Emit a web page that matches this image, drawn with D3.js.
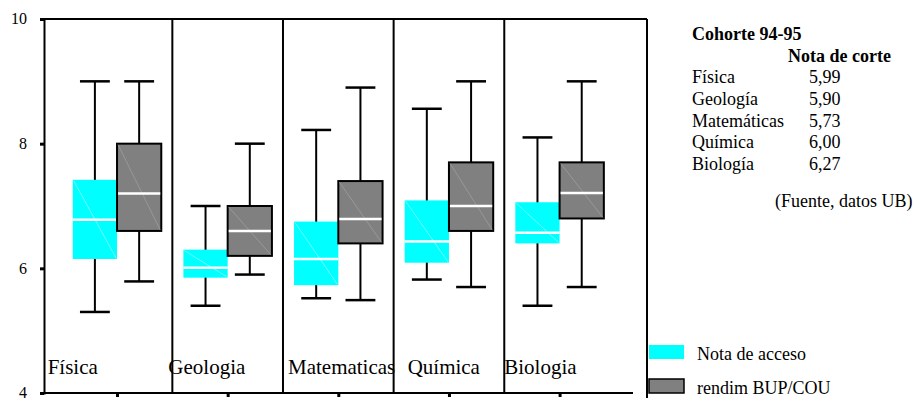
<html>
<head>
<meta charset="utf-8">
<script src="https://d3js.org/d3.v7.min.js"></script>
<style>
  body { margin: 0; background: #fff; }
  svg text { font-family: "Liberation Serif", "Times New Roman", serif; fill: #000; }
</style>
</head>
<body>
<script>
// carreras (x categories)
var categories = ["Física", "Geologia", "Matematicas", "Química", "Biologia"];
// [whisker low, q1, median, q3, whisker high]
var notaAcceso = [
  [5.30, 6.15, 6.78, 7.42, 9.00],
  [5.40, 5.85, 6.01, 6.30, 7.00],
  [5.52, 5.73, 6.15, 6.75, 8.22],
  [5.82, 6.09, 6.43, 7.09, 8.56],
  [5.40, 6.40, 6.57, 7.06, 8.10]
];
var rendimBUP = [
  [5.79, 6.60, 7.20, 8.00, 9.00],
  [5.90, 6.20, 6.60, 7.00, 8.00],
  [5.49, 6.40, 6.79, 7.40, 8.90],
  [5.70, 6.60, 7.00, 7.70, 9.00],
  [5.70, 6.80, 7.21, 7.70, 9.00]
];
var yTicks = [4, 6, 8, 10];
var tablaCarreras = ["Física", "Geología", "Matemáticas", "Química", "Biología"];
var notaCorte = ["5,99", "5,90", "5,73", "6,00", "6,27"];
var seriesNames = ["Nota de acceso", "rendim BUP/COU"];

var width = 918, height = 398;
var svg = d3.select("body").append("svg")
  .attr("width", width).attr("height", height);

var x = d3.scaleLinear().domain([-0.66, 4.79]).range([44, 647]);
var y = d3.scaleLinear().domain([4, 10]).range([393, 19]);

var boxW = 0.4, capW = 0.135;

// frame
svg.append("line").attr("x1", x(-0.66)).attr("x2", x(4.79))
  .attr("y1", y(10)).attr("y2", y(10)).attr("stroke", "#000").attr("stroke-width", 2);
svg.append("line").attr("x1", x(4.79)).attr("x2", x(4.79))
  .attr("y1", y(10)).attr("y2", height).attr("stroke", "#000").attr("stroke-width", 2);

// separators between groups
svg.selectAll(".sep").data(d3.range(categories.length - 1)).enter()
  .append("line")
  .attr("x1", function(i) { return x(i + 0.5); })
  .attr("x2", function(i) { return x(i + 0.5); })
  .attr("y1", y(10)).attr("y2", y(4))
  .attr("stroke", "#000").attr("stroke-width", 2);

// y axis
var yAxis = d3.axisLeft(y).tickValues(yTicks).tickSize(4).tickPadding(13).tickFormat(d3.format("d"));
var gy = svg.append("g").attr("transform", "translate(" + x(-0.66) + ",0)").call(yAxis);
gy.attr("font-family", null).attr("font-size", null);
gy.select(".domain").attr("stroke-width", 2);
gy.selectAll(".tick line").attr("stroke-width", 3);
gy.selectAll(".tick text").style("font-size", "16px").attr("dy", "0.3em");

// x axis
var xAxis = d3.axisBottom(x).tickValues(d3.range(categories.length)).tickSize(4).tickFormat("");
var gx = svg.append("g").attr("transform", "translate(0," + y(4) + ")").call(xAxis);
gx.select(".domain").attr("d", "M" + x(-0.66) + ",0H" + (x(4.79) - 14)).attr("stroke-width", 2);
gx.selectAll(".tick line").attr("stroke-width", 3);

function drawBoxes(data, offset, fill, stroke, diag) {
  var g = svg.append("g");
  data.forEach(function(d, i) {
    var cx = i + offset + boxW / 2;
    // whisker
    g.append("line").attr("x1", x(cx)).attr("x2", x(cx))
      .attr("y1", y(d[0])).attr("y2", y(d[4])).attr("stroke", "#000").attr("stroke-width", 2);
    [d[0], d[4]].forEach(function(v) {
      g.append("line").attr("x1", x(cx - capW)).attr("x2", x(cx + capW))
        .attr("y1", y(v)).attr("y2", y(v)).attr("stroke", "#000").attr("stroke-width", 2.5);
    });
    var x0 = x(i + offset), x1 = x(i + offset + boxW);
    g.append("rect").attr("x", x0).attr("width", x1 - x0)
      .attr("y", y(d[3])).attr("height", y(d[1]) - y(d[3]))
      .attr("fill", fill)
      .attr("stroke", stroke || "none").attr("stroke-width", 2);
    g.append("line").attr("x1", x0 + 1).attr("x2", x1 - 1)
      .attr("y1", y(d[3]) + 1).attr("y2", y(d[1]) - 1)
      .attr("stroke", diag).attr("stroke-width", 0.6);
    g.append("line").attr("x1", x0 + (stroke ? 1 : 0)).attr("x2", x1 - (stroke ? 1 : 0))
      .attr("y1", y(d[2])).attr("y2", y(d[2]))
      .attr("stroke", "#fff").attr("stroke-width", 2.5);
  });
}
drawBoxes(notaAcceso, -boxW, "#00ffff", null, "#b8ffff");
drawBoxes(rendimBUP, 0, "#808080", "#000", "#a8a8a8");

// category labels (nudged like the original)
var labelPad = [-14, -4, 5, 14, 0];
svg.selectAll(".cat").data(categories).enter()
  .append("text")
  .attr("x", function(d, i) { return x(i - 0.5) + labelPad[i]; })
  .attr("y", 374)
  .style("font-size", "21px")
  .text(function(d) { return d; });

// table at right
var tx = 692, tvx = 809;
svg.append("text").attr("x", tx).attr("y", 40).style("font-size", "18px")
  .style("font-weight", "bold").text("Cohorte 94-95");
svg.append("text").attr("x", 788).attr("y", 62).style("font-size", "18px")
  .style("font-weight", "bold").text("Nota de corte");
tablaCarreras.forEach(function(c, i) {
  var ty = 83 + i * 21.8;
  svg.append("text").attr("x", tx).attr("y", ty).style("font-size", "18px").text(c);
  svg.append("text").attr("x", tvx).attr("y", ty).style("font-size", "18px").text(notaCorte[i]);
});
svg.append("text").attr("x", 775).attr("y", 207).style("font-size", "18px")
  .text("(Fuente, datos UB)");

// legend
var legFill = ["#00ffff", "#808080"];
seriesNames.forEach(function(s, i) {
  var ly = 345 + i * 34;
  svg.append("rect").attr("x", 649).attr("y", ly).attr("width", 35).attr("height", 14)
    .attr("fill", legFill[i]).attr("stroke", i ? "#000" : "none").attr("stroke-width", 1.5);
  svg.append("text").attr("x", 697).attr("y", ly + 15).style("font-size", "18px").text(s);
});
</script>
</body>
</html>
